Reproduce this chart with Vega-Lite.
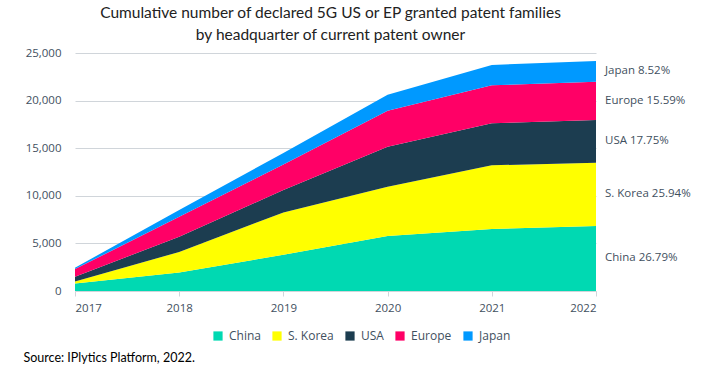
{
  "$schema": "https://vega.github.io/schema/vega-lite/v6.json",
  "width": 521,
  "height": 238,
  "autosize": {"type": "none"},
  "padding": {"left": 75, "top": 53, "right": 109, "bottom": 82},
  "background": "white",
  "title": {
    "text": ["Cumulative number of declared 5G US or EP granted patent families", "by headquarter of current patent owner"],
    "anchor": "middle",
    "font": "Lato",
    "fontSize": 15.5,
    "fontWeight": "normal",
    "color": "#222222",
    "lineHeight": 22,
    "offset": 4,
    "dx": -5
  },
  "config": {
    "view": {"stroke": null},
    "font": "Open Sans"
  },
  "data": {
    "values": [
      {"year": 2017, "country": "China", "patents": 800, "label": "China 26.79%"},
      {"year": 2018, "country": "China", "patents": 1950, "label": "China 26.79%"},
      {"year": 2019, "country": "China", "patents": 3800, "label": "China 26.79%"},
      {"year": 2020, "country": "China", "patents": 5780, "label": "China 26.79%"},
      {"year": 2021, "country": "China", "patents": 6510, "label": "China 26.79%"},
      {"year": 2022, "country": "China", "patents": 6830, "label": "China 26.79%"},
      {"year": 2017, "country": "S. Korea", "patents": 200, "label": "S. Korea 25.94%"},
      {"year": 2018, "country": "S. Korea", "patents": 2150, "label": "S. Korea 25.94%"},
      {"year": 2019, "country": "S. Korea", "patents": 4450, "label": "S. Korea 25.94%"},
      {"year": 2020, "country": "S. Korea", "patents": 5180, "label": "S. Korea 25.94%"},
      {"year": 2021, "country": "S. Korea", "patents": 6690, "label": "S. Korea 25.94%"},
      {"year": 2022, "country": "S. Korea", "patents": 6650, "label": "S. Korea 25.94%"},
      {"year": 2017, "country": "USA", "patents": 500, "label": "USA 17.75%"},
      {"year": 2018, "country": "USA", "patents": 1600, "label": "USA 17.75%"},
      {"year": 2019, "country": "USA", "patents": 2350, "label": "USA 17.75%"},
      {"year": 2020, "country": "USA", "patents": 4200, "label": "USA 17.75%"},
      {"year": 2021, "country": "USA", "patents": 4410, "label": "USA 17.75%"},
      {"year": 2022, "country": "USA", "patents": 4480, "label": "USA 17.75%"},
      {"year": 2017, "country": "Europe", "patents": 800, "label": "Europe 15.59%"},
      {"year": 2018, "country": "Europe", "patents": 2100, "label": "Europe 15.59%"},
      {"year": 2019, "country": "Europe", "patents": 2700, "label": "Europe 15.59%"},
      {"year": 2020, "country": "Europe", "patents": 3780, "label": "Europe 15.59%"},
      {"year": 2021, "country": "Europe", "patents": 3990, "label": "Europe 15.59%"},
      {"year": 2022, "country": "Europe", "patents": 4030, "label": "Europe 15.59%"},
      {"year": 2017, "country": "Japan", "patents": 150, "label": "Japan 8.52%"},
      {"year": 2018, "country": "Japan", "patents": 700, "label": "Japan 8.52%"},
      {"year": 2019, "country": "Japan", "patents": 1200, "label": "Japan 8.52%"},
      {"year": 2020, "country": "Japan", "patents": 1680, "label": "Japan 8.52%"},
      {"year": 2021, "country": "Japan", "patents": 2140, "label": "Japan 8.52%"},
      {"year": 2022, "country": "Japan", "patents": 2170, "label": "Japan 8.52%"}
    ]
  },
  "transform": [
    {"calculate": "indexof(['China','S. Korea','USA','Europe','Japan'], datum.country)", "as": "rank"}
  ],
  "layer": [
    {
      "mark": {"type": "area", "interpolate": "linear", "opacity": 1},
      "encoding": {
        "x": {
          "field": "year",
          "type": "quantitative",
          "scale": {"domain": [2017, 2022], "nice": false, "zero": false},
          "axis": {
            "values": [2017, 2018, 2019, 2020, 2021, 2022],
            "format": "d",
            "grid": false,
            "domainColor": "#d0d5da",
            "tickColor": "#d0d5da",
            "tickSize": 5,
            "labelColor": "#3f5060",
            "labelFontSize": 11.5,
            "labelPadding": 6,
            "title": "Source: IPlytics Platform, 2022.",
            "titleFont": "Lato",
            "titleFontSize": 12.5,
            "titleFontWeight": "normal",
            "titleColor": "#000000",
            "titleX": -52,
            "titleY": 70,
            "titleAlign": "left",
            "titleBaseline": "alphabetic",
            "titleAnchor": "start"
          }
        },
        "y": {
          "field": "patents",
          "type": "quantitative",
          "stack": "zero",
          "scale": {"domain": [0, 25000], "nice": false},
          "axis": {
            "values": [0, 5000, 10000, 15000, 20000, 25000],
            "format": ",d",
            "title": null,
            "domain": false,
            "ticks": false,
            "gridColor": "#d0d5da",
            "gridWidth": 1,
            "labelColor": "#3f5060",
            "labelFontSize": 11.5,
            "labelPadding": 14
          }
        },
        "color": {
          "field": "country",
          "type": "nominal",
          "sort": ["China", "S. Korea", "USA", "Europe", "Japan"],
          "scale": {
            "domain": ["China", "S. Korea", "USA", "Europe", "Japan"],
            "range": ["#00d9b2", "#ffff00", "#1c3d50", "#ff0066", "#0099ff"]
          },
          "legend": {
            "title": null,
            "orient": "none",
            "direction": "horizontal",
            "legendX": 137,
            "legendY": 277,
            "symbolType": "square",
            "symbolSize": 85,
            "symbolStrokeWidth": 0,
            "labelFontSize": 12,
            "labelColor": "#3f5060",
            "labelOffset": 5,
            "columnPadding": 10
          }
        },
        "order": {"field": "rank", "type": "quantitative", "sort": "ascending"}
      }
    },
    {
      "transform": [
        {"stack": "patents", "groupby": ["year"], "sort": [{"field": "rank", "order": "ascending"}], "as": ["y0", "y1"]},
        {"filter": "datum.year === 2022"},
        {"fold": ["y0", "y1"], "as": ["edge", "pos"]},
        {"aggregate": [{"op": "mean", "field": "pos", "as": "mid"}], "groupby": ["label", "year"]}
      ],
      "mark": {"type": "text", "align": "left", "baseline": "middle", "dx": 9, "fontSize": 11.5, "color": "#3f5060"},
      "encoding": {
        "x": {"field": "year", "type": "quantitative"},
        "y": {"field": "mid", "type": "quantitative"},
        "text": {"field": "label"}
      }
    }
  ]
}
